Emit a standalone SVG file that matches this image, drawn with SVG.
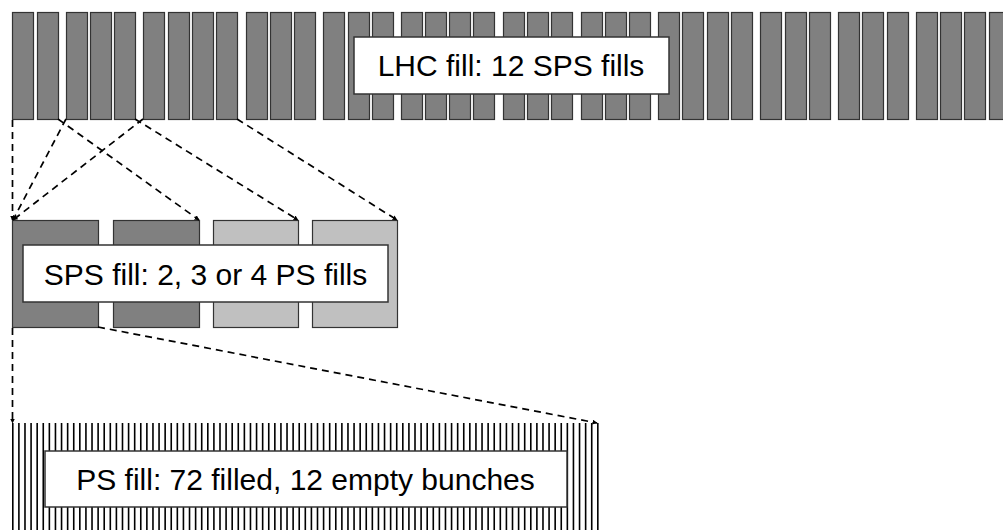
<svg xmlns="http://www.w3.org/2000/svg" width="1003" height="530" viewBox="0 0 1003 530">
  <defs>
    <style>
      .bunch-dark { fill: #808080; stroke: #333333; stroke-width: 1.2; }
      .bunch-light { fill: #c0c0c0; stroke: #333333; stroke-width: 1.2; }
      .label-box { fill: #ffffff; stroke: #333333; stroke-width: 1.5; }
      .label { font-family: "Liberation Sans", Arial, sans-serif; font-size: 30px; fill: #000000; text-anchor: middle; }
      .link { fill: none; stroke: #000000; stroke-width: 1.7; stroke-dasharray: 7 5; marker-end: url(#tip); }
    </style>
    <marker id="tip" viewBox="0 0 10 10" refX="9" refY="5" markerWidth="5" markerHeight="5" orient="auto" markerUnits="userSpaceOnUse">
      <path d="M0 0L10 5L0 10z" fill="#000000"/>
    </marker>
  </defs>
  <rect width="1003" height="530" fill="#ffffff"/>

  <!-- LHC ring: 12 SPS fills of 2, 3 or 4 PS batches -->
  <g id="lhc-fill">
    <g id="lhc-batches">
      <rect class="bunch-dark" x="12.5" y="12.5" width="21" height="107"/>
      <rect class="bunch-dark" x="37.5" y="12.5" width="21" height="107"/>
      <rect class="bunch-dark" x="66.5" y="12.5" width="21" height="107"/>
      <rect class="bunch-dark" x="90.5" y="12.5" width="21" height="107"/>
      <rect class="bunch-dark" x="114.5" y="12.5" width="21" height="107"/>
      <rect class="bunch-dark" x="143.5" y="12.5" width="21" height="107"/>
      <rect class="bunch-dark" x="168.5" y="12.5" width="21" height="107"/>
      <rect class="bunch-dark" x="192.5" y="12.5" width="21" height="107"/>
      <rect class="bunch-dark" x="216.5" y="12.5" width="21" height="107"/>
      <rect class="bunch-dark" x="246.5" y="12.5" width="21" height="107"/>
      <rect class="bunch-dark" x="270.5" y="12.5" width="21" height="107"/>
      <rect class="bunch-dark" x="294.5" y="12.5" width="21" height="107"/>
      <rect class="bunch-dark" x="323.5" y="12.5" width="21" height="107"/>
      <rect class="bunch-dark" x="348.5" y="12.5" width="21" height="107"/>
      <rect class="bunch-dark" x="372.5" y="12.5" width="21" height="107"/>
      <rect class="bunch-dark" x="401.5" y="12.5" width="21" height="107"/>
      <rect class="bunch-dark" x="425.5" y="12.5" width="21" height="107"/>
      <rect class="bunch-dark" x="449.5" y="12.5" width="21" height="107"/>
      <rect class="bunch-dark" x="473.5" y="12.5" width="21" height="107"/>
      <rect class="bunch-dark" x="503.5" y="12.5" width="21" height="107"/>
      <rect class="bunch-dark" x="527.5" y="12.5" width="21" height="107"/>
      <rect class="bunch-dark" x="551.5" y="12.5" width="21" height="107"/>
      <rect class="bunch-dark" x="581.5" y="12.5" width="21" height="107"/>
      <rect class="bunch-dark" x="605.5" y="12.5" width="21" height="107"/>
      <rect class="bunch-dark" x="629.5" y="12.5" width="21" height="107"/>
      <rect class="bunch-dark" x="658.5" y="12.5" width="21" height="107"/>
      <rect class="bunch-dark" x="682.5" y="12.5" width="21" height="107"/>
      <rect class="bunch-dark" x="707.5" y="12.5" width="21" height="107"/>
      <rect class="bunch-dark" x="731.5" y="12.5" width="21" height="107"/>
      <rect class="bunch-dark" x="760.5" y="12.5" width="21" height="107"/>
      <rect class="bunch-dark" x="785.5" y="12.5" width="21" height="107"/>
      <rect class="bunch-dark" x="809.5" y="12.5" width="21" height="107"/>
      <rect class="bunch-dark" x="838.5" y="12.5" width="21" height="107"/>
      <rect class="bunch-dark" x="862.5" y="12.5" width="21" height="107"/>
      <rect class="bunch-dark" x="887.5" y="12.5" width="21" height="107"/>
      <rect class="bunch-dark" x="916.5" y="12.5" width="21" height="107"/>
      <rect class="bunch-dark" x="940.5" y="12.5" width="21" height="107"/>
      <rect class="bunch-dark" x="964.5" y="12.5" width="21" height="107"/>
      <rect class="bunch-dark" x="989.5" y="12.5" width="21" height="107"/>
    </g>
    <rect class="label-box" x="354" y="37" width="315" height="57"/>
    <text class="label" x="511" y="76">LHC fill: 12 SPS fills</text>
  </g>

  <!-- SPS fill: up to four PS batches -->
  <g id="sps-fill">
    <rect class="bunch-dark" x="12.5" y="220.5" width="86" height="107"/>
    <rect class="bunch-dark" x="113.5" y="220.5" width="86" height="107"/>
    <rect class="bunch-light" x="213.5" y="220.5" width="85" height="107"/>
    <rect class="bunch-light" x="312.5" y="220.5" width="85" height="107"/>
    <rect class="label-box" x="23" y="245" width="365" height="57"/>
    <text class="label" x="205.5" y="285">SPS fill: 2, 3 or 4 PS fills</text>
  </g>

  <!-- PS fill: individual bunch slots drawn as thin vertical strokes -->
  <g id="ps-fill">
    <line x1="12" y1="476.5" x2="599" y2="476.5" stroke="#000000" stroke-width="107" stroke-dasharray="1.6 4.494"/>
    <rect class="label-box" x="45" y="451" width="522" height="56"/>
    <text class="label" x="305.5" y="490">PS fill: 72 filled, 12 empty bunches</text>
  </g>

  <!-- Dashed expansion lines between the three levels -->
  <g id="connectors">
    <line class="link" x1="12.5" y1="120" x2="12.5" y2="220"/>
    <line class="link" x1="58" y1="119" x2="199" y2="220"/>
    <line class="link" x1="66" y1="119" x2="13" y2="220"/>
    <line class="link" x1="135" y1="119" x2="298" y2="220"/>
    <line class="link" x1="143" y1="119" x2="13" y2="220"/>
    <line class="link" x1="237" y1="119" x2="397" y2="220"/>
    <line class="link" x1="12.5" y1="328" x2="12.5" y2="423"/>
    <line class="link" x1="98" y1="327" x2="597" y2="423"/>
  </g>
</svg>
